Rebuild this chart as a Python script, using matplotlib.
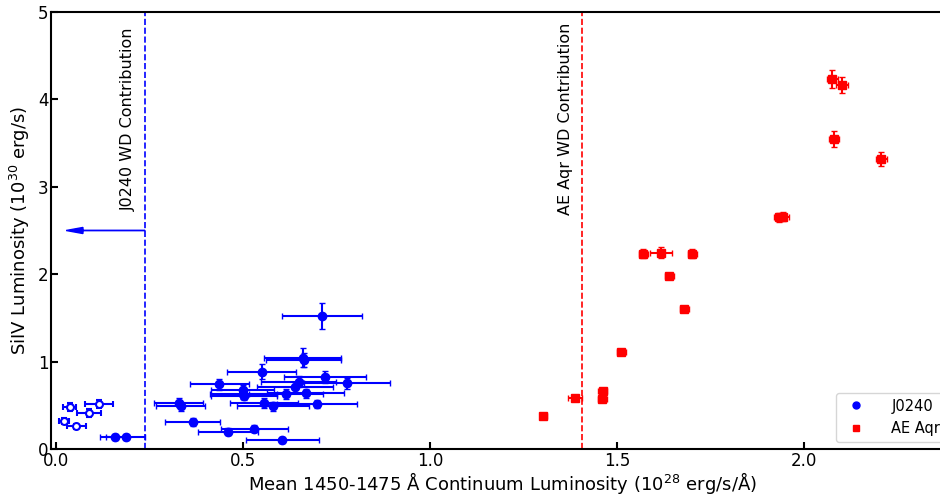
import numpy as np
import matplotlib
matplotlib.use('Agg')
import matplotlib.pyplot as plt

# J0240 points with filled markers
j_x = [0.711, 0.660, 0.662, 0.550, 0.719, 0.649, 0.777, 0.436, 0.639, 0.499, 0.501, 0.503,
       0.668, 0.614, 0.556, 0.581, 0.698, 0.328, 0.333, 0.365, 0.530, 0.460, 0.605, 0.157, 0.186]
j_y = [1.525, 1.045, 1.020, 0.885, 0.820, 0.770, 0.750, 0.740, 0.706, 0.675, 0.630, 0.610,
       0.637, 0.626, 0.523, 0.490, 0.515, 0.530, 0.490, 0.305, 0.233, 0.200, 0.107, 0.137, 0.137]
j_xerr = [0.106, 0.103, 0.100, 0.092, 0.109, 0.100, 0.115, 0.079, 0.102, 0.085, 0.090, 0.088,
          0.103, 0.099, 0.092, 0.096, 0.107, 0.065, 0.066, 0.074, 0.089, 0.081, 0.097, 0.039, 0.052]
j_yerr = [0.147, 0.110, 0.080, 0.088, 0.070, 0.060, 0.065, 0.065, 0.060, 0.055, 0.055, 0.055,
          0.055, 0.055, 0.055, 0.050, 0.050, 0.055, 0.050, 0.045, 0.040, 0.040, 0.035, 0.030, 0.030]

# J0240 points with open markers
jo_x = [0.036, 0.115, 0.088, 0.021, 0.054]
jo_y = [0.480, 0.515, 0.410, 0.320, 0.260]
jo_xerr = [0.018, 0.037, 0.033, 0.013, 0.025]
jo_yerr = [0.045, 0.050, 0.045, 0.035, 0.030]

# AE Aqr points
ae_x = [1.303, 1.388, 1.462, 1.461, 1.511, 1.680, 1.570, 1.618, 1.702, 1.640,
        2.076, 2.102, 2.081, 2.207, 1.934, 1.945]
ae_y = [0.378, 0.584, 0.667, 0.576, 1.110, 1.598, 2.235, 2.246, 2.235, 1.983,
        4.233, 4.161, 3.547, 3.315, 2.651, 2.658]
ae_xerr = [0.010, 0.019, 0.012, 0.012, 0.012, 0.012, 0.012, 0.030, 0.012, 0.012,
           0.015, 0.017, 0.013, 0.015, 0.015, 0.015]
ae_yerr = [0.020, 0.025, 0.030, 0.030, 0.030, 0.030, 0.050, 0.060, 0.050, 0.035,
           0.100, 0.090, 0.090, 0.080, 0.050, 0.050]

j_wd = 0.238
ae_wd = 1.406

fig = plt.figure(figsize=(9.4, 4.96), dpi=100)
ax = fig.add_axes([0.0543, 0.0948, 0.96, 0.881])

ax.errorbar(j_x, j_y, xerr=j_xerr, yerr=j_yerr, fmt='o', color='blue', ms=6,
            elinewidth=1.5, capsize=2)
ax.errorbar(jo_x, jo_y, xerr=jo_xerr, yerr=jo_yerr, fmt='o', color='blue', mfc='white',
            mew=1.5, ms=5, elinewidth=1.5, capsize=2)
ax.errorbar(ae_x, ae_y, xerr=ae_xerr, yerr=ae_yerr, fmt='s', color='red', ms=6,
            elinewidth=1.5, capsize=2)

ax.axvline(j_wd, color='blue', ls='--', lw=1.2)
ax.axvline(ae_wd, color='red', ls='--', lw=1.2)
ax.arrow(j_wd, 2.5, 0.027 - j_wd, 0, head_width=0.07, head_length=0.045,
         length_includes_head=True, fc='blue', ec='blue', lw=1)

ax.text(j_wd - 0.045, 2.72, 'J0240 WD Contribution', rotation=90, ha='center', va='bottom', fontsize=11.5)
ax.text(ae_wd - 0.043, 2.68, 'AE Aqr WD Contribution', rotation=90, ha='center', va='bottom', fontsize=11.5)

ax.plot([], [], 'o', color='blue', ms=5, label='J0240')
ax.plot([], [], 's', color='red', ms=5, label='AE Aqr')
ax.legend(loc='lower right', fontsize=10.5, handletextpad=1.4)

ax.set_xlim(-0.0134, 2.4)
ax.set_ylim(0, 5)
ax.set_xticks([0.0, 0.5, 1.0, 1.5, 2.0])
ax.set_yticks([0, 1, 2, 3, 4, 5])
ax.tick_params(direction='in', length=5, width=1.5, labelsize=12, pad=2)
for s in ax.spines.values():
    s.set_linewidth(1.5)

ax.set_xlabel('Mean 1450-1475 Å Continuum Luminosity (10$^{28}$ erg/s/Å)', fontsize=13, labelpad=0)
ax.set_ylabel('SiIV Luminosity (10$^{30}$ erg/s)', fontsize=13)

fig.savefig('out.png', dpi=100)
